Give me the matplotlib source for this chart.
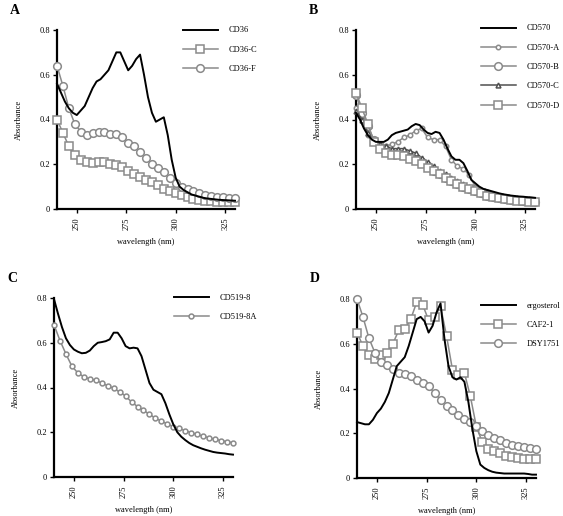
import matplotlib
matplotlib.use('Agg')
import matplotlib.pyplot as plt
import numpy as np

plt.rcParams['font.family'] = ['Liberation Serif', 'DejaVu Serif']

# ! <--- wavelength grids --->
wl_marker = np.arange(240, 331, 3)   # 31 points, marker series
wl_line = np.arange(240, 331, 2)     # 46 points, black traces

# ! <--- panel A --->
cd36 = [0.56, 0.52, 0.48, 0.45, 0.43, 0.42, 0.44, 0.46, 0.50, 0.54,
        0.57, 0.58, 0.60, 0.62, 0.66, 0.70, 0.70, 0.66, 0.62, 0.64,
        0.67, 0.69, 0.60, 0.50, 0.43, 0.39, 0.40, 0.41, 0.33, 0.22,
        0.14, 0.10, 0.085, 0.075, 0.065, 0.06, 0.055, 0.05, 0.047, 0.045,
        0.043, 0.041, 0.04, 0.039, 0.038, 0.037]
cd36_c = [0.40, 0.34, 0.28, 0.24, 0.217, 0.208, 0.205, 0.208, 0.208, 0.20,
          0.196, 0.187, 0.168, 0.158, 0.143, 0.131, 0.119, 0.107, 0.089, 0.08,
          0.071, 0.062, 0.054, 0.045, 0.042, 0.037, 0.034, 0.03, 0.03, 0.03, 0.03]
cd36_f = [0.64, 0.55, 0.45, 0.38, 0.346, 0.33, 0.34, 0.345, 0.342, 0.336,
          0.336, 0.324, 0.294, 0.28, 0.253, 0.228, 0.20, 0.183, 0.165, 0.138,
          0.116, 0.10, 0.091, 0.079, 0.071, 0.064, 0.057, 0.054, 0.054, 0.05, 0.05]

# ! <--- panel B --->
cd570 = [0.43, 0.40, 0.36, 0.33, 0.31, 0.30, 0.30, 0.30, 0.31, 0.33,
         0.34, 0.345, 0.35, 0.355, 0.37, 0.38, 0.375, 0.355, 0.34, 0.335,
         0.345, 0.34, 0.31, 0.27, 0.235, 0.22, 0.22, 0.205, 0.17, 0.13,
         0.115, 0.10, 0.09, 0.085, 0.08, 0.075, 0.07, 0.066, 0.063, 0.06,
         0.058, 0.056, 0.055, 0.053, 0.052, 0.05]
cd570_a = [0.45, 0.40, 0.33, 0.31, 0.29, 0.28, 0.29, 0.30, 0.32, 0.33,
           0.35, 0.36, 0.32, 0.31, 0.31, 0.28, 0.22, 0.19, 0.18, 0.15,
           0.10, 0.085, 0.075, 0.065, 0.06, 0.055, 0.05, 0.045, 0.04, 0.04, 0.035]
cd570_b = [0.51, 0.43, 0.37, 0.31, 0.28, 0.26, 0.25, 0.25, 0.24, 0.23,
           0.22, 0.21, 0.19, 0.17, 0.155, 0.14, 0.125, 0.11, 0.10, 0.09,
           0.08, 0.07, 0.06, 0.055, 0.05, 0.045, 0.04, 0.04, 0.035, 0.035, 0.03]
cd570_c = [0.44, 0.40, 0.34, 0.31, 0.29, 0.28, 0.27, 0.27, 0.27, 0.26,
           0.25, 0.23, 0.21, 0.19, 0.17, 0.155, 0.14, 0.125, 0.11, 0.10,
           0.09, 0.08, 0.075, 0.065, 0.06, 0.055, 0.05, 0.05, 0.045, 0.045, 0.04]
cd570_d = [0.52, 0.45, 0.38, 0.30, 0.27, 0.25, 0.24, 0.24, 0.235, 0.225,
           0.215, 0.20, 0.185, 0.17, 0.155, 0.14, 0.125, 0.11, 0.10, 0.09,
           0.08, 0.07, 0.06, 0.055, 0.05, 0.045, 0.04, 0.035, 0.035, 0.03, 0.03]

# ! <--- panel C --->
cd519_8 = [0.795, 0.73, 0.67, 0.62, 0.59, 0.57, 0.56, 0.553, 0.555, 0.565,
           0.585, 0.60, 0.603, 0.607, 0.615, 0.645, 0.645, 0.62, 0.585, 0.575,
           0.578, 0.575, 0.54, 0.48, 0.42, 0.39, 0.38, 0.37, 0.33, 0.28,
           0.235, 0.20, 0.18, 0.165, 0.152, 0.142, 0.135, 0.128, 0.122, 0.117,
           0.112, 0.109, 0.107, 0.105, 0.102, 0.10]
cd519_8a = [0.68, 0.61, 0.55, 0.495, 0.465, 0.448, 0.438, 0.432, 0.42, 0.408,
            0.396, 0.38, 0.362, 0.335, 0.315, 0.298, 0.28, 0.263, 0.25, 0.237,
            0.225, 0.217, 0.207, 0.198, 0.19, 0.182, 0.175, 0.168, 0.163, 0.158, 0.153]

# ! <--- panel D --->
ergosterol = [0.25, 0.245, 0.24, 0.24, 0.26, 0.29, 0.31, 0.34, 0.38, 0.44,
              0.50, 0.52, 0.54, 0.59, 0.65, 0.71, 0.72, 0.70, 0.65, 0.68,
              0.74, 0.78, 0.62, 0.50, 0.45, 0.44, 0.45, 0.43, 0.34, 0.22,
              0.12, 0.06, 0.045, 0.035, 0.028, 0.024, 0.022, 0.02, 0.02, 0.02,
              0.02, 0.02, 0.02, 0.018, 0.015, 0.015]
caf2_1 = [0.65, 0.59, 0.55, 0.53, 0.55, 0.56, 0.60, 0.66, 0.666, 0.71,
          0.785, 0.775, 0.705, 0.72, 0.767, 0.636, 0.484, 0.462, 0.47, 0.365,
          0.23, 0.16, 0.13, 0.12, 0.11, 0.10, 0.094, 0.089, 0.086, 0.085, 0.085]
dsy1751 = [0.80, 0.72, 0.625, 0.56, 0.52, 0.505, 0.485, 0.47, 0.465, 0.455,
           0.437, 0.425, 0.41, 0.38, 0.35, 0.323, 0.302, 0.283, 0.264, 0.249,
           0.231, 0.209, 0.192, 0.179, 0.168, 0.156, 0.147, 0.142, 0.137, 0.134, 0.131]

GRAY = '#8a8a8a'
DARK = '#505050'

fig = plt.figure(figsize = (5.63, 5.16), dpi = 100)

# axes boxes in pixels (left, right, top, bottom) from the reference
boxes = {
    'A': (57, 235, 30, 209),
    'B': (356, 535, 30, 209),
    'C': (54, 233, 298, 477),
    'D': (357, 536, 299, 478),
}
W, H = 563, 516

def make_axes(key) :
    l, r, t, b = boxes[key]
    ax = fig.add_axes([l / W, 1 - b / H, (r - l) / W, (b - t) / H])
    ax.set_xlim(240, 330)
    ax.set_ylim(0, 0.8)
    ax.spines['top'].set_visible(False)
    ax.spines['right'].set_visible(False)
    ax.spines['left'].set_linewidth(1.6)
    ax.spines['bottom'].set_linewidth(1.6)
    ax.set_xticks([250, 275, 300, 325])
    ax.set_yticks([0, 0.2, 0.4, 0.6, 0.8])
    ax.set_yticklabels(['0', '0.2', '0.4', '0.6', '0.8'])
    ax.tick_params(axis = 'x', labelrotation = 90, labelsize = 6, length = 3, width = 1, pad = 3)
    ax.tick_params(axis = 'y', labelsize = 6, length = 3, width = 1, pad = 2)
    ax.set_xlabel('wavelength (nm)', fontsize = 6, labelpad = 6)
    ax.set_ylabel('Absorbance', fontsize = 6, labelpad = 12)
    fig.text((l - 47) / W, 1 - (t - 20) / H, key, fontsize = 10, fontweight = 'bold', va = 'center', ha = 'left')
    return ax

def black(ax, y, label) :
    ax.plot(wl_line, y, color = 'black', lw = 1.4, label = label, clip_on = False, zorder = 4)

def marked(ax, y, label, marker, ms = 5, color = GRAY) :
    ax.plot(wl_marker, y, color = color, lw = 1.1, marker = marker, ms = ms, mfc = 'white',
            mec = color, mew = 1.1, label = label, clip_on = False, zorder = 3)

def legend(ax, key, rows = 3) :
    l, r, t, b = boxes[key]
    x0 = {'A': 186, 'B': 484, 'C': 177, 'D': 484}[key]
    y0 = {'A': 24, 'B': 22, 'C': 291, 'D': 299}[key]
    ax.legend(loc = 'upper left', bbox_to_anchor = ((x0 - 6) / W, 1 - y0 / H), bbox_transform = fig.transFigure,
              frameon = False, fontsize = 6, handlelength = 4.2, handletextpad = 1.3, labelspacing = 1.35,
              borderaxespad = 0, borderpad = 0.3)

# ! <--- A --->
ax = make_axes('A')
black(ax, cd36, 'CD36')
marked(ax, cd36_c, 'CD36-C', 's', ms = 5.5)
marked(ax, cd36_f, 'CD36-F', 'o', ms = 5.5)
legend(ax, 'A')

# ! <--- B --->
ax = make_axes('B')
black(ax, cd570, 'CD570')
marked(ax, cd570_a, 'CD570-A', 'o', ms = 3.2)
marked(ax, cd570_b, 'CD570-B', 'o', ms = 5.5)
marked(ax, cd570_c, 'CD570-C', '^', ms = 3.5, color = DARK)
marked(ax, cd570_d, 'CD570-D', 's', ms = 5.5)
legend(ax, 'B')

# ! <--- C --->
ax = make_axes('C')
black(ax, cd519_8, 'CD519-8')
marked(ax, cd519_8a, 'CD519-8A', 'o', ms = 3.5)
legend(ax, 'C')

# ! <--- D --->
ax = make_axes('D')
black(ax, ergosterol, 'ergosterol')
marked(ax, caf2_1, 'CAF2-1', 's', ms = 5.5)
marked(ax, dsy1751, 'DSY1751', 'o', ms = 5.5)
legend(ax, 'D')

plt.savefig('out.png', dpi = 100)
plt.close()
